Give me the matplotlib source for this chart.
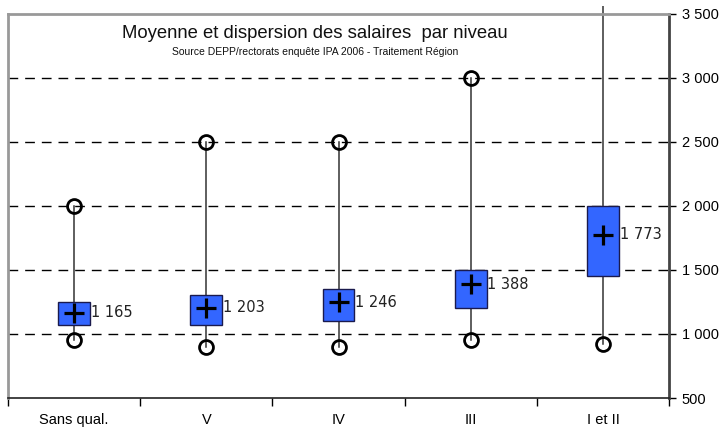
import numpy as np
from matplotlib import pyplot as plt
from matplotlib.transforms import Bbox, TransformedBbox

"""
Moyenne et dispersion des salaires par niveau
"""
niveaux = ["Sans qual.", "V", "IV", "III", "I et II"]
sal_min = [950, 900, 900, 950, 920]
sal_max = [2000, 2500, 2500, 3000, 4000]
q_bas = [1070, 1070, 1100, 1200, 1450]
q_haut = [1250, 1300, 1350, 1500, 2000]
moyenne = [1165, 1203, 1246, 1388, 1773]
y_ticks = [500, 1000, 1500, 2000, 2500, 3000, 3500]

fig = plt.figure(figsize=(7.25, 4.3), dpi=100)
ax = fig.add_axes([0.011, 0.0744, 0.912, 0.8942])

x = np.arange(len(niveaux))
larg = 0.24

# grille pointillee
for v in y_ticks[1:-1]:
    ax.axhline(v, color='k', lw=1, ls=(0, (7, 5)), zorder=1)

clip = TransformedBbox(Bbox([[0, 0], [1, 0.986]]), fig.transFigure)
for i in range(len(niveaux)):
    l, = ax.plot([x[i], x[i]], [sal_min[i], sal_max[i]], color='#333333', lw=1.1,
                 zorder=2, clip_on=False)
    l.set_clip_box(clip)
    l.set_clip_on(True)
    ax.bar(x[i], q_haut[i] - q_bas[i], bottom=q_bas[i], width=larg,
           color='#3366FF', edgecolor='#1a1a4d', lw=1, zorder=3)
    ax.plot(x[i], moyenne[i], marker='+', color='k', ms=15, mew=2.3, zorder=4)
    ax.text(x[i] + larg / 2 + 0.005, moyenne[i], "{:,}".format(moyenne[i]).replace(",", " "),
            va='center', ha='left', fontsize=10.5, color='#222222', zorder=5)

ax.plot(x, sal_min, 'o', mfc='none', mec='k', ms=10, mew=2.0, zorder=4)
ax.plot(x, sal_max, 'o', mfc='none', mec='k', ms=10, mew=2.0, zorder=4)

ax.set_xlim(-0.5, 4.5)
ax.set_ylim(500, 3500)

ax.yaxis.tick_right()
ax.set_yticks(y_ticks)
ax.set_yticklabels(["{:,}".format(v).replace(",", " ") for v in y_ticks],
                   fontsize=10.5, family='Liberation Sans')
ax.tick_params(axis='y', direction='out', length=5, width=1, pad=4)

ax.set_xticks(x)
ax.set_xticklabels(niveaux, fontsize=10.5, family='Liberation Sans')
ax.set_xticks(np.arange(-0.5, 5, 1), minor=True)
ax.tick_params(axis='x', which='major', length=0, pad=11)
ax.tick_params(axis='x', which='minor', direction='out', length=6, width=1)

ax.spines['top'].set_color('#999999')
ax.spines['top'].set_linewidth(2)
ax.spines['left'].set_color('#999999')
ax.spines['left'].set_linewidth(2)
ax.spines['right'].set_color('#444444')
ax.spines['right'].set_linewidth(2)
ax.spines['bottom'].set_color('#222222')
ax.spines['bottom'].set_linewidth(1.2)

fig.text(0.434, 0.921, "Moyenne et dispersion des salaires  par niveau",
         ha='center', va='center', fontsize=13.3, color='#111111',
         family='Liberation Sans')
fig.text(0.434, 0.880, "Source DEPP/rectorats enquête IPA 2006 - Traitement Région",
         ha='center', va='center', fontsize=7.5, color='#111111',
         family='Liberation Sans')

fig.savefig("out.png", dpi=100)
